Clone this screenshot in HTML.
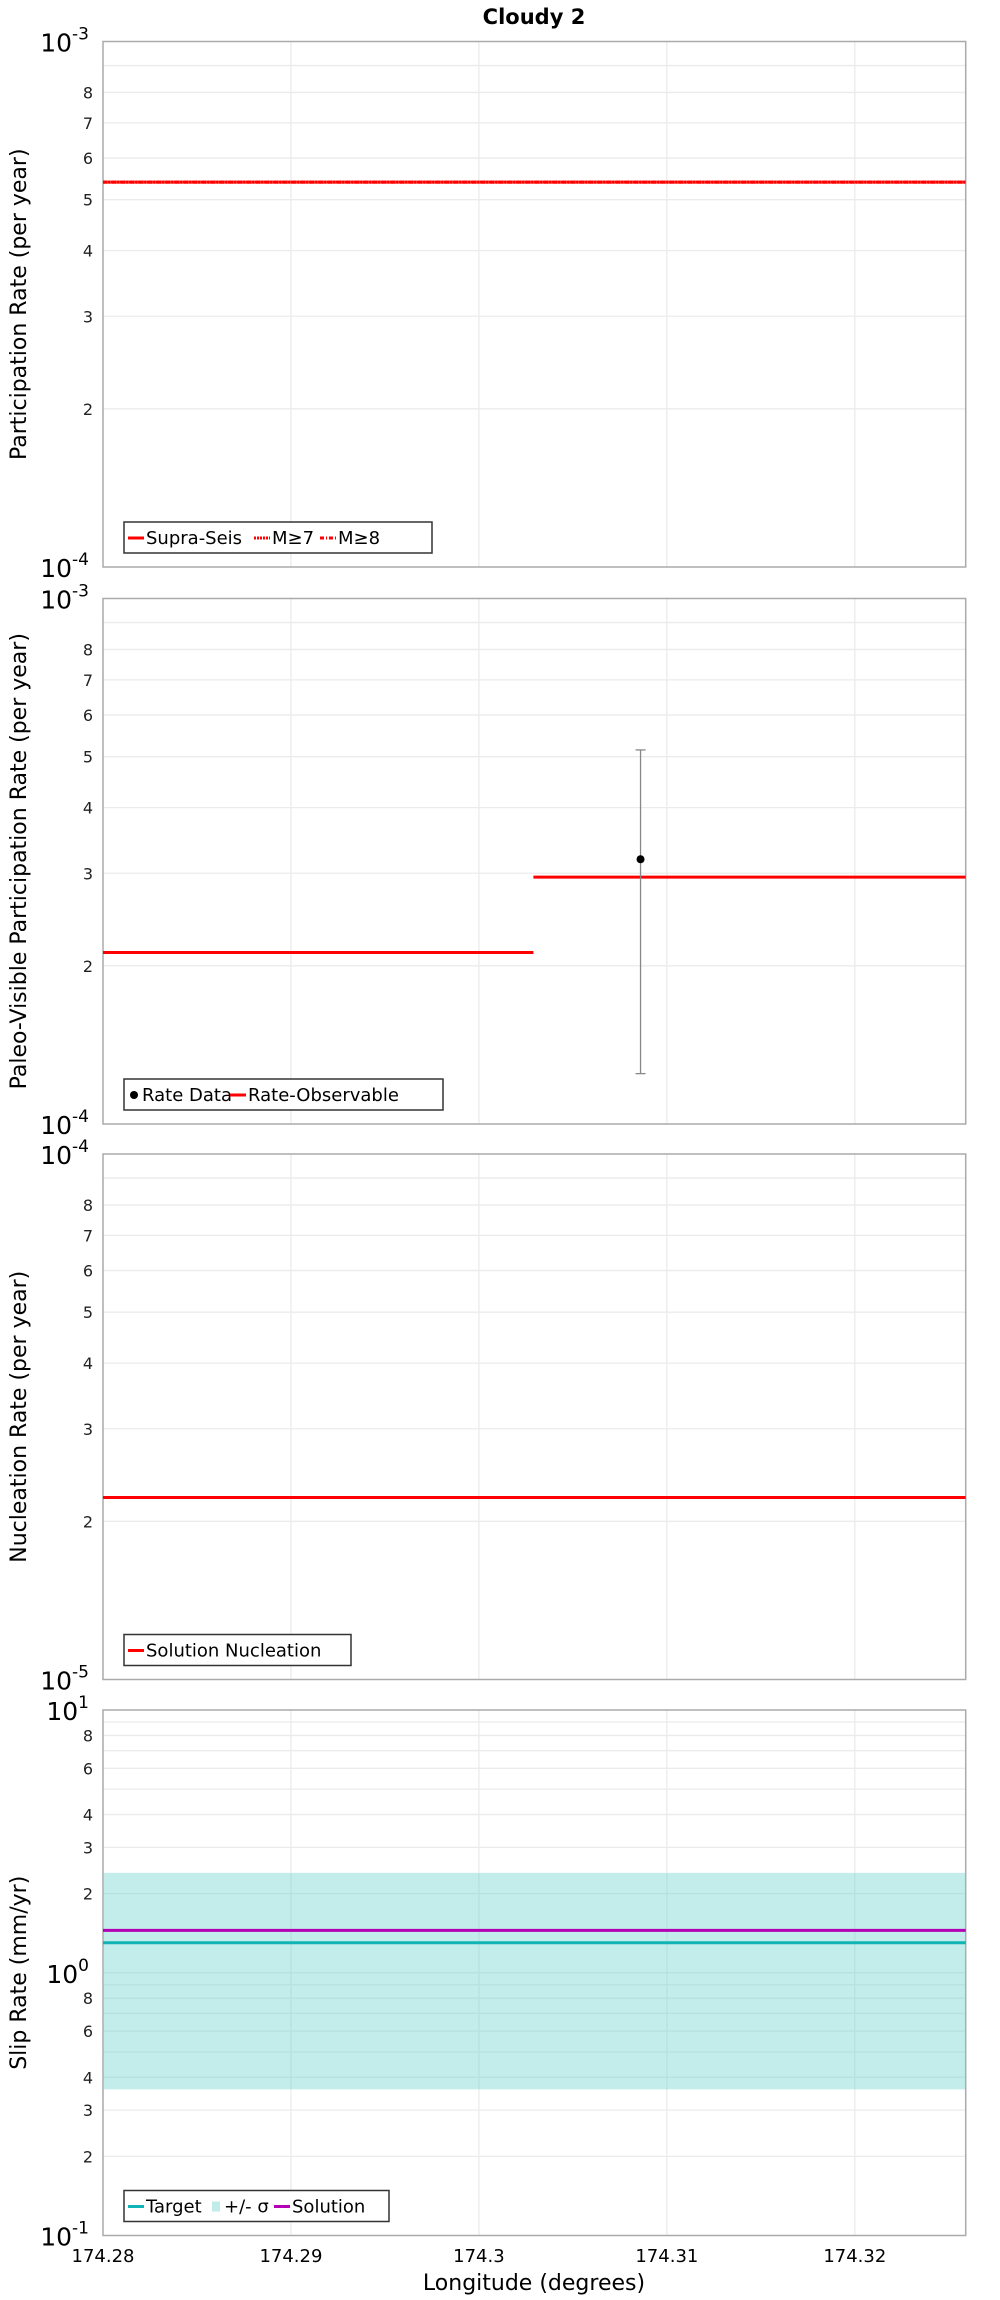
<!DOCTYPE html>
<html><head><meta charset="utf-8"><style>
html,body{margin:0;padding:0;background:#fff;}
svg{display:block;font-family:"DejaVu Sans","Liberation Sans",sans-serif;}
</style></head><body>
<svg id="chart" width="1000" height="2300" xmlns="http://www.w3.org/2000/svg">
<text x="534" y="24" text-anchor="middle" font-size="21" font-weight="bold">Cloudy 2</text>
<g id="g"></g>
<text x="534" y="2290" text-anchor="middle" font-size="22">Longitude (degrees)</text>
</svg>
<script>
const xTicks = [174.28, 174.29, 174.30, 174.31, 174.32];
const xTickLabels = ["174.28", "174.29", "174.3", "174.31", "174.32"];
const xDomain = [174.28, 174.3259];
// Panel 1
const p1Supra = 5.4e-4, p1M7 = 5.4e-4, p1M8 = 5.4e-4;
// Panel 2
const p2SegX = [[174.28, 174.3029], [174.3029, 174.3259]];
const p2SegY = [2.12e-4, 2.95e-4];
const p2PointX = [174.3086];
const p2PointY = [3.19e-4];
const p2ErrLo = [1.247e-4];
const p2ErrHi = [5.15e-4];
// Panel 3
const p3Nucl = 2.22e-5;
// Panel 4
const p4Target = 1.3, p4Solution = 1.45, p4BandLo = 0.36, p4BandHi = 2.4;

const NS = "http://www.w3.org/2000/svg";
const G = document.getElementById('g');
const L = 103, R = 965.7, H = 525.5;
function xs(v){return L + (v - xDomain[0])/(xDomain[1]-xDomain[0])*(R-L);}
function mk(tag, attrs, parent){const e=document.createElementNS(NS,tag);for(const k in attrs)e.setAttribute(k,attrs[k]);(parent||G).appendChild(e);return e;}

function panel(top, lo, hi, minorLabels, title, name){
  const grp = mk('g',{});
  
  
  const ys = v => top + H - (Math.log10(v)-Math.log10(lo))/(Math.log10(hi)-Math.log10(lo))*H;
  // grid
  for(let d=Math.log10(lo); d<Math.log10(hi); d++){
    for(let m=1;m<=9;m++){
      const v=Math.pow(10,d)*m; if(v<=lo||v>=hi) continue;
      const y=ys(v);
      const gl=mk('line',{x1:L,x2:R,y1:y,y2:y,stroke:'#ebebeb','stroke-width':1.3},grp);
      
      
      if(minorLabels.includes(m)){
        const t=mk('text',{x:L-10,y:y+6,'text-anchor':'end','font-size':16,fill:'#222'},grp);
        
        
        t.textContent=m;
      }
    }
    if(d>Math.log10(lo)){
      const y=ys(Math.pow(10,d));
      const t=mk('text',{x:L-14,y:y+10,'text-anchor':'end','font-size':25},grp);
      
      
      t.innerHTML='10<tspan font-size="17" dy="-12">'+d+'</tspan>';
    }
  }
  xTicks.forEach(v=>{const x=xs(v);if(x<=L+1)return;
    const gl=mk('line',{x1:x,x2:x,y1:top,y2:top+H,stroke:'#ebebeb','stroke-width':1.3},grp);
    
    });
  [[lo,top+H],[hi,top]].forEach(([v,y])=>{
    const t=mk('text',{x:L-14,y:y+10,'text-anchor':'end','font-size':25},grp);
    
    
    t.innerHTML='10<tspan font-size="17" dy="-12">'+Math.round(Math.log10(v))+'</tspan>';
  });
  const fr=mk('rect',{x:L,y:top,width:R-L,height:H,fill:'none',stroke:'#aaa','stroke-width':1.5},grp);
  
  
  const yt=mk('text',{x:0,y:0,'text-anchor':'middle','font-size':22,transform:`translate(26,${top+H/2}) rotate(-90)`},grp);
  
  
  yt.textContent=title;
  return {grp, ys, top};
}
function hline(p, x1, x2, v, color, w, dash, name){
  const l=mk('line',{x1:xs(x1),x2:xs(x2),y1:p.ys(v),y2:p.ys(v),stroke:color,'stroke-width':w},p.grp);
  if(dash) l.setAttribute('stroke-dasharray',dash);
  
  
}
function legend(p, width, items, name){
  const y=p.top+H-45;
  const lg=mk('g',{},p.grp);
  
  
  mk('rect',{x:124,y:y,width:width,height:31,fill:'#fff',stroke:'#333','stroke-width':1.5},lg);
  let x=128;
  items.forEach(it=>{
    if(it.box){mk('rect',{x:x+2,y:y+11,width:8,height:10,fill:it.color},lg);x+=14;}
    else if(it.dot){mk('circle',{cx:x+6,cy:y+16,r:4,fill:'#000'},lg);x+=14;}
    else{const l=mk('line',{x1:x,x2:x+16,y1:y+16,y2:y+16,stroke:it.color,'stroke-width':3},lg);if(it.dash)l.setAttribute('stroke-dasharray',it.dash);x+=18;}
    const t=mk('text',{x:x,y:y+22,'font-size':18},lg);
    
    
    t.textContent=it.label;
    x+=it.w;
  });
}
// Panel 1
const P1=panel(41.5,1e-4,1e-3,[2,3,4,5,6,7,8],'Participation Rate (per year)','participation-panel');
hline(P1,xDomain[0],xDomain[1],p1Supra,'#ff0000',3,null,'supra-seis-line');
hline(P1,xDomain[0],xDomain[1],p1M7,'#ff3030',3,'2,1','m7-line');
hline(P1,xDomain[0],xDomain[1],p1M8,'#ff0000',3,'4,2,1,2','m8-line');
legend(P1,308,[{color:'#f00',label:'Supra-Seis',w:108},{color:'#f00',dash:'2,1',label:'M≥7',w:48},{color:'#f00',dash:'4,2,1,2',label:'M≥8',w:40}],'participation-legend');
// Panel 2
const P2=panel(598.5,1e-4,1e-3,[2,3,4,5,6,7,8],'Paleo-Visible Participation Rate (per year)','paleo-panel');
p2SegX.forEach((s,i)=>hline(P2,s[0],s[1],p2SegY[i],'#ff0000',3,null,'rate-observable-segment'));
p2PointX.forEach((v,i)=>{
  const x=xs(v);
  const e=mk('g',{},P2.grp);
  
  
  mk('line',{x1:x,x2:x,y1:P2.ys(p2ErrLo[i]),y2:P2.ys(p2ErrHi[i]),stroke:'#888','stroke-width':1.3},e);
  mk('line',{x1:x-5,x2:x+5,y1:P2.ys(p2ErrLo[i]),y2:P2.ys(p2ErrLo[i]),stroke:'#888','stroke-width':1.3},e);
  mk('line',{x1:x-5,x2:x+5,y1:P2.ys(p2ErrHi[i]),y2:P2.ys(p2ErrHi[i]),stroke:'#888','stroke-width':1.3},e);
  const c=mk('circle',{cx:x,cy:P2.ys(p2PointY[i]),r:4,fill:'#000'},P2.grp);
  
  
});
legend(P2,319,[{dot:1,label:'Rate Data',w:88},{color:'#f00',label:'Rate-Observable',w:150}],'paleo-legend');
// Panel 3
const P3=panel(1154,1e-5,1e-4,[2,3,4,5,6,7,8],'Nucleation Rate (per year)','nucleation-panel');
hline(P3,xDomain[0],xDomain[1],p3Nucl,'#ff0000',3,null,'solution-nucleation-line');
legend(P3,227,[{color:'#f00',label:'Solution Nucleation',w:200}],'nucleation-legend');
// Panel 4
const P4=panel(1710,0.1,10,[2,3,4,6,8],'Slip Rate (mm/yr)','slip-rate-panel');
const band=mk('rect',{x:xs(xDomain[0]),y:P4.ys(p4BandHi),width:xs(xDomain[1])-xs(xDomain[0]),height:P4.ys(p4BandLo)-P4.ys(p4BandHi),fill:'#6dd3cf','fill-opacity':0.42},P4.grp);


hline(P4,xDomain[0],xDomain[1],p4Target,'#10b4b4',3,null,'target-line');
hline(P4,xDomain[0],xDomain[1],p4Solution,'#b400b4',3,null,'solution-line');
legend(P4,265,[{color:'#10b4b4',label:'Target',w:64},{box:1,color:'#c0ecea',label:'+/- σ',w:50},{color:'#b400b4',label:'Solution',w:80}],'slip-rate-legend');
// x tick labels
xTicks.forEach((v,i)=>{
  const t=mk('text',{x:xs(v),y:2262,'text-anchor':'middle','font-size':18});
  
  
  t.textContent=xTickLabels[i];
});
</script>
</body></html>
